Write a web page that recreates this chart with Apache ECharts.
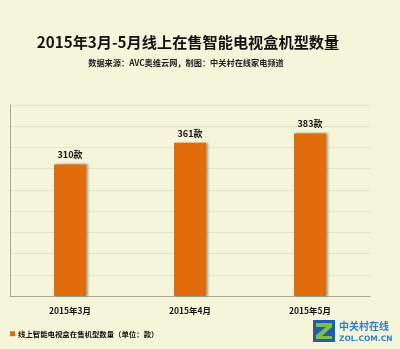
<!DOCTYPE html>
<html>
<head>
<meta charset="utf-8">
<script src="https://cdn.jsdelivr.net/npm/echarts@6/dist/echarts.min.js"></script>
<style>
  html, body { margin: 0; padding: 0; background: #F5F5D9; }
  #chart { width: 400px; height: 349px; }
</style>
</head>
<body>
<div id="chart"></div>
<script>
// Months and number of smart TV box models on sale online
const categories = ['2015年3月', '2015年4月', '2015年5月'];
const modelCounts = [310, 361, 383];
const seriesName = '线上智能电视盒在售机型数量（单位：款）';
const titleText = '2015年3月-5月线上在售智能电视盒机型数量';
const subtitleText = '数据来源：AVC奥维云网，制图：中关村在线家电频道';

const FONT = '"Noto Sans CJK SC", "Noto Sans", sans-serif';
const BAR = '#E36C0A';

const chart = echarts.init(document.getElementById('chart'));
chart.setOption({
  backgroundColor: '#F5F5D9',
  animation: false,
  textStyle: { fontFamily: FONT },
  title: [
    {
      text: titleText,
      left: 183, top: 30, textAlign: 'center',
      textStyle: { fontSize: 15.2, fontWeight: 'bold', color: '#111', fontFamily: FONT }
    },
    {
      text: subtitleText,
      left: 181, top: 54, textAlign: 'center',
      textStyle: { fontSize: 8.2, fontWeight: 'bold', color: '#222', fontFamily: FONT }
    }
  ],
  legend: {
    left: 5, top: 325,
    itemWidth: 5, itemHeight: 5, itemGap: 3,
    icon: 'rect',
    textStyle: { fontSize: 7.4, fontWeight: 'bold', color: '#111', fontFamily: FONT, padding: [0, 0, 0, -2] },
    data: [seriesName]
  },
  grid: { left: 10, right: 30, top: 105, bottom: 53, containLabel: false },
  xAxis: {
    type: 'category',
    data: categories,
    axisLine: { show: true, lineStyle: { color: '#A8A898', width: 1 } },
    axisTick: { show: false },
    axisLabel: { fontSize: 8.5, fontWeight: 'bold', color: '#111', margin: 11, fontFamily: FONT }
  },
  yAxis: {
    type: 'value',
    min: 0, max: 450, interval: 50,
    axisLine: { show: true, lineStyle: { color: '#A8A898', width: 1 } },
    axisTick: { show: false },
    axisLabel: { show: false },
    splitLine: { show: true, lineStyle: { color: '#E4E4C8', width: 1 } }
  },
  series: [{
    name: seriesName,
    type: 'bar',
    data: modelCounts,
    barWidth: 32,
    itemStyle: {
      color: BAR,
      shadowColor: 'rgba(90,90,70,0.55)',
      shadowOffsetX: 2,
      shadowOffsetY: 0,
      shadowBlur: 2
    },
    label: {
      show: true,
      position: 'top',
      distance: 5,
      formatter: '{c}款',
      fontSize: 9,
      fontWeight: 'bold',
      color: '#111',
      fontFamily: FONT
    }
  }],
  graphic: [
    {
      type: 'group', left: 313, top: 320,
      children: [
        { type: 'polygon', shape: { points: [[0,0],[22,0],[22,22],[0,22]] }, style: { fill: '#1E5DB0' } },
        { type: 'polygon', shape: { points: [[3,3],[19,3],[19,7],[9,16],[19,16],[19,19],[3,19],[3,15],[13,7],[3,7]] }, style: { fill: '#7BC143' } }
      ]
    },
    {
      type: 'text', left: 339, top: 321,
      style: { text: '中关村在线', fontSize: 10, fontWeight: 'bold', fill: '#2A7FD0', fontFamily: FONT }
    },
    {
      type: 'text', left: 339, top: 335,
      style: { text: 'ZOL.COM.CN', fontSize: 7.5, fontWeight: 'bold', fill: '#2A7FD0', fontFamily: '"DejaVu Sans", sans-serif' }
    }
  ]
});
</script>
</body>
</html>
